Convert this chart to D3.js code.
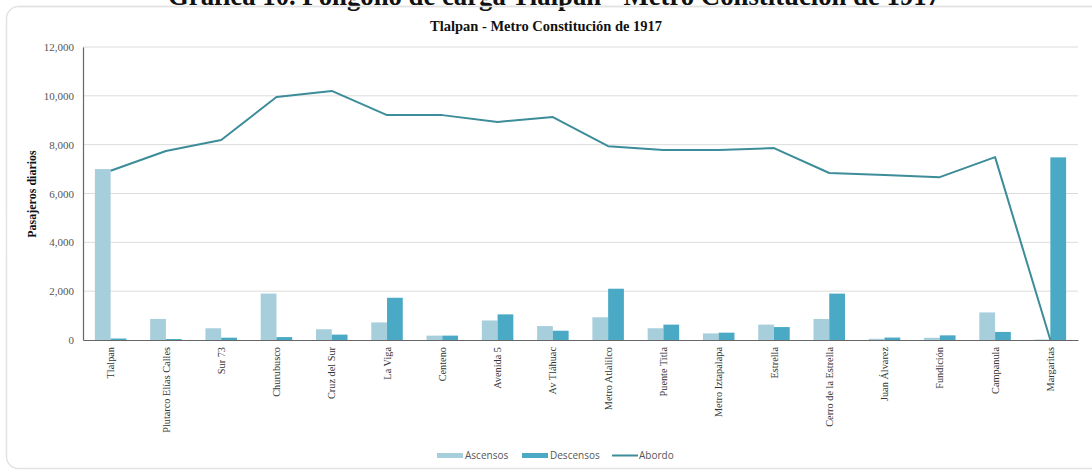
<!DOCTYPE html>
<html>
<head>
<meta charset="utf-8">
<script src="https://cdn.jsdelivr.net/npm/d3@7"></script>
<style>
  html, body { margin: 0; padding: 0; background: #fff; }
  svg { display: block; }
</style>
</head>
<body>
<svg id="chart" width="1092" height="470"></svg>
<script>
const categories = ["Tlalpan", "Plutarco Elías Calles", "Sur 73", "Churubusco", "Cruz del Sur", "La Viga", "Centeno", "Avenida 5", "Av Tláhuac", "Metro Atlalilco", "Puente Titla", "Metro Iztapalapa", "Estrella", "Cerro de la Estrella", "Juan Álvarez", "Fundición", "Campanula", "Margaritas"];
const ascensos = [7000, 860, 480, 1900, 440, 720, 180, 800, 570, 930, 480, 270, 630, 860, 50, 90, 1130, 20];
const descensos = [60, 40, 95, 120, 220, 1730, 180, 1050, 380, 2100, 630, 300, 530, 1900, 100, 190, 330, 7480];
const abordo = [6930, 7740, 8190, 9950, 10200, 9210, 9210, 8930, 9130, 7940, 7780, 7780, 7860, 6840, 6760, 6670, 7490, 0];
const yTicks = [0, 2000, 4000, 6000, 8000, 10000, 12000];
const seriesNames = ["Ascensos", "Descensos", "Abordo"];

(function () {
const colA = "#a7cedb", colD = "#4aaac5", colL = "#3c8d99";
const svg = d3.select("#chart");
const mLeft = 83, mRight = 1078, mTop = 47, mBottom = 340;

// card background
svg.append("rect").attr("x", 6.5).attr("y", 6.5).attr("width", 1100).attr("height", 462)
  .attr("rx", 12).attr("fill", "#fff").attr("stroke", "#e3e3e3").attr("stroke-width", 1.5);

// top clipped heading
svg.append("text").attr("x", 554).attr("y", 4.5).attr("text-anchor", "middle")
  .attr("font-family", "Liberation Serif, serif").attr("font-weight", "bold").attr("font-size", 27)
  .attr("textLength", 772).attr("lengthAdjust", "spacingAndGlyphs")
  .attr("fill", "#111").text("Gráfica 10. Polígono de carga Tlalpan - Metro Constitución de 1917");
svg.append("line").attr("x1", 18).attr("x2", 1092).attr("y1", 6.5).attr("y2", 6.5)
  .attr("stroke", "#e3e3e3").attr("stroke-width", 1.5);

svg.append("text").attr("x", 546).attr("y", 31).attr("text-anchor", "middle")
  .attr("font-family", "Liberation Serif, serif").attr("font-weight", "bold").attr("font-size", 14)
  .attr("textLength", 232).attr("lengthAdjust", "spacingAndGlyphs")
  .attr("fill", "#111").text("Tlalpan  - Metro Constitución  de 1917");

const x = d3.scaleBand().domain(categories).range([mLeft, mRight]).padding(0);
const y = d3.scaleLinear().domain([0, 12000]).range([mBottom, mTop]);
const bw = x.bandwidth() * 0.285;

// gridlines
svg.append("g").selectAll("line").data(yTicks.filter(d => d > 0)).join("line")
  .attr("x1", mLeft).attr("x2", mRight).attr("y1", d => y(d)).attr("y2", d => y(d))
  .attr("stroke", "#dcdcdc").attr("stroke-width", 1);

// y axis
const yAxis = svg.append("g").attr("transform", `translate(${mLeft},0)`)
  .call(d3.axisLeft(y).tickValues(yTicks).tickSize(0).tickPadding(9).tickFormat(d3.format(",")));
yAxis.select(".domain").attr("stroke", "#666").attr("stroke-width", 1.2);
yAxis.selectAll("text").attr("font-family", "Liberation Serif, serif").attr("font-size", 11).attr("fill", "#555");

svg.append("text").attr("transform", `translate(36,194) rotate(-90)`).attr("text-anchor", "middle")
  .attr("font-family", "Liberation Serif, serif").attr("font-weight", "bold").attr("font-size", 12)
  .attr("fill", "#111").text("Pasajeros diarios");

// bars
const cx = d => x(d) + x.bandwidth() / 2;
svg.append("g").selectAll("rect").data(categories).join("rect")
  .attr("x", d => cx(d) - bw).attr("width", bw)
  .attr("y", (d, i) => y(ascensos[i])).attr("height", (d, i) => mBottom - y(ascensos[i]))
  .attr("fill", colA);
svg.append("g").selectAll("rect").data(categories).join("rect")
  .attr("x", d => cx(d)).attr("width", bw)
  .attr("y", (d, i) => y(descensos[i])).attr("height", (d, i) => mBottom - y(descensos[i]))
  .attr("fill", colD);

// x axis
const xAxis = svg.append("g").attr("transform", `translate(0,${mBottom})`)
  .call(d3.axisBottom(x).tickSize(0).tickPadding(0));
xAxis.select(".domain").attr("stroke", "#666").attr("stroke-width", 1.2);
xAxis.selectAll("text").attr("font-family", "Liberation Serif, serif").attr("font-size", 10.3).attr("fill", "#333")
  .attr("transform", "translate(0,7) rotate(-90)").attr("text-anchor", "end").attr("dy", "0.35em").attr("y", 0).attr("x", 0);

// line
const line = d3.line().x((d, i) => cx(categories[i])).y(d => y(d));
svg.append("path").datum(abordo).attr("d", line).attr("fill", "none")
  .attr("stroke", colL).attr("stroke-width", 2).attr("stroke-linejoin", "round");

// legend
const lg = svg.append("g").attr("font-family", "Open Sans, sans-serif").attr("font-size", 10).attr("fill", "#555");
lg.append("rect").attr("x", 437).attr("y", 453).attr("width", 26).attr("height", 5).attr("fill", colA);
lg.append("text").attr("x", 465).attr("y", 459).text(seriesNames[0]);
lg.append("rect").attr("x", 522).attr("y", 453).attr("width", 26).attr("height", 5).attr("fill", colD);
lg.append("text").attr("x", 550).attr("y", 459).text(seriesNames[1]);
lg.append("line").attr("x1", 612).attr("x2", 638).attr("y1", 455.5).attr("y2", 455.5).attr("stroke", colL).attr("stroke-width", 2);
lg.append("text").attr("x", 639).attr("y", 459).text(seriesNames[2]);
})();
</script>
</body>
</html>
